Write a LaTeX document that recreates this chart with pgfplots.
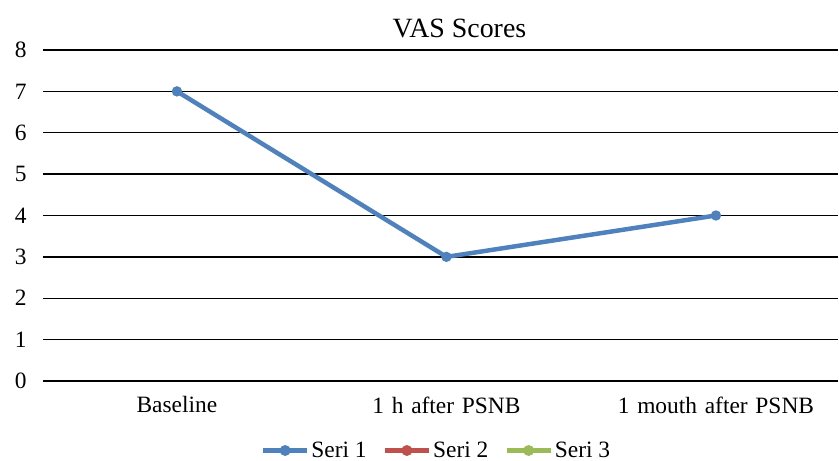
\documentclass[border=0pt]{standalone}
\usepackage{fontspec}
\setmainfont{Liberation Serif}
\usepackage{pgfplots}
\pgfplotsset{compat=1.18}
\definecolor{s1}{HTML}{4F81BD}
\definecolor{s2}{HTML}{C0504D}
\definecolor{s3}{HTML}{9BBB59}
\newcommand\wsp{\spaceskip=0.33em plus 0.1em\relax}
\begin{document}
\begin{tikzpicture}[x=1bp,y=1bp]
\useasboundingbox (-43,-80) rectangle (796,381);
\begin{axis}[
  at={(0,0)}, anchor=south west,
  scale only axis, width=795bp, height=331bp,
  xmin=-0.497, xmax=2.453, ymin=0, ymax=8,
  xtick={0,1,2}, xticklabels={{\wsp Baseline},{\wsp 1 h after PSNB},{\wsp 1 mouth after PSNB}},
  ytick={0,1,...,8},
  ymajorgrids, major grid style={black, line width=1.3pt},
  axis line style={draw=none},
  major tick length=0pt,
  tick label style={font=\fontsize{23.5}{26}\selectfont},
  /pgf/number format/assume math mode=true,
  yticklabel style={xshift=-13bp},
  xticklabel style={yshift=-12bp},
  title={VAS Scores},
  title style={font=\fontsize{28}{32}\selectfont, xshift=19bp, yshift=3bp},
  legend style={at={(0.495,-0.21)}, anchor=center, draw=none, fill=none, font=\fontsize{23.5}{26}\selectfont, legend columns=3,
    /tikz/every even column/.append style={column sep=14bp}},
  legend image code/.code={\draw[#1, line width=4.5pt] (0bp,0bp) -- (44bp,0bp); \fill[#1, draw=none] (22bp,0bp) circle (5.5bp);},
]
\addplot[s1, line width=4.5pt, mark=*, mark options={fill=s1, draw=s1, scale=1.4}] coordinates {(0,7) (1,3) (2,4)};
\addlegendentry{Seri 1}
\addlegendimage{s2}
\addlegendentry{Seri 2}
\addlegendimage{s3}
\addlegendentry{Seri 3}
\end{axis}
\end{tikzpicture}
\end{document}
